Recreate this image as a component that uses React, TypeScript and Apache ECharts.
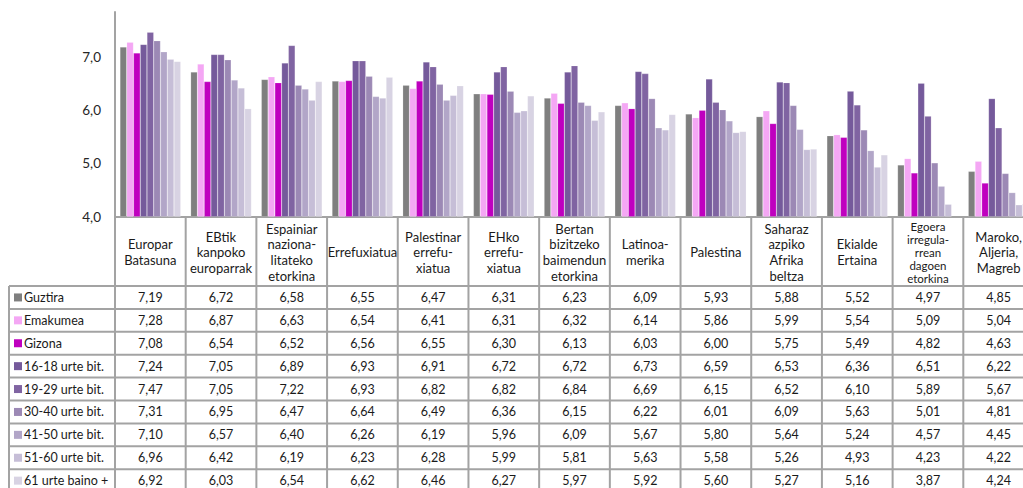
import React, { useEffect, useRef } from "react";
import * as echarts from "echarts";

const categories = [
  "Europar\nBatasuna",
  "EBtik\nkanpoko\neuroparrak",
  "Espainiar\nnaziona-\nlitateko\netorkina",
  "Errefuxiatua",
  "Palestinar\nerrefu-\nxiatua",
  "EHko\nerrefu-\nxiatua",
  "Bertan\nbizitzeko\nbaimendun\netorkina",
  "Latinoa-\nmerika",
  "Palestina",
  "Saharaz\nazpiko\nAfrika\nbeltza",
  "Ekialde\nErtaina",
  "Egoera\nirregula-\nrrean\ndagoen\netorkina",
  "Maroko,\nAljeria,\nMagreb",
];

const seriesNames = [
  "Guztira",
  "Emakumea",
  "Gizona",
  "16-18 urte bit.",
  "19-29 urte bit.",
  "30-40 urte bit.",
  "41-50 urte bit.",
  "51-60 urte bit.",
  "61 urte baino +",
];

const guztira = [7.19, 6.72, 6.58, 6.55, 6.47, 6.31, 6.23, 6.09, 5.93, 5.88, 5.52, 4.97, 4.85];
const emakumea = [7.28, 6.87, 6.63, 6.54, 6.41, 6.31, 6.32, 6.14, 5.86, 5.99, 5.54, 5.09, 5.04];
const gizona = [7.08, 6.54, 6.52, 6.56, 6.55, 6.3, 6.13, 6.03, 6.0, 5.75, 5.49, 4.82, 4.63];
const age16_18 = [7.24, 7.05, 6.89, 6.93, 6.91, 6.72, 6.72, 6.73, 6.59, 6.53, 6.36, 6.51, 6.22];
const age19_29 = [7.47, 7.05, 7.22, 6.93, 6.82, 6.82, 6.84, 6.69, 6.15, 6.52, 6.1, 5.89, 5.67];
const age30_40 = [7.31, 6.95, 6.47, 6.64, 6.49, 6.36, 6.15, 6.22, 6.01, 6.09, 5.63, 5.01, 4.81];
const age41_50 = [7.1, 6.57, 6.4, 6.26, 6.19, 5.96, 6.09, 5.67, 5.8, 5.64, 5.24, 4.57, 4.45];
const age51_60 = [6.96, 6.42, 6.19, 6.23, 6.28, 5.99, 5.81, 5.63, 5.58, 5.26, 4.93, 4.23, 4.22];
const age61plus = [6.92, 6.03, 6.54, 6.62, 6.46, 6.27, 5.97, 5.92, 5.6, 5.27, 5.16, 3.87, 4.24];

const seriesValues = [guztira, emakumea, gizona, age16_18, age19_29, age30_40, age41_50, age51_60, age61plus];

const yMin = 4;
const yMax = 7.85;
const yInterval = 1;

const colors = [
  "#7f7f7f",
  "#f4a7f4",
  "#bf00bf",
  "#755a9b",
  "#8064a2",
  "#9c89b5",
  "#b2a6c8",
  "#c6bed7",
  "#d8d3e3",
];

const fmt = (v: number, d: number) => v.toFixed(d).replace(".", ",");

export default function App() {
  const ref = useRef<HTMLDivElement>(null);

  useEffect(() => {
    const el = ref.current!;
    const chart = echarts.init(el, null, { renderer: "svg" });
    const FONT = "Lato";
    const CW = 1040;
    const H = 488;
    const axisY = 216.5;
    const headerBottom = 286;
    const rowH = 22.9;
    const tableLeft = 9;
    const lineColor = "#a3a3a3";
    const textColor = "#1a1a1a";

    chart.setOption({
      animation: false,
      grid: { left: 115, top: 12, right: CW - 1034, bottom: H - axisY },
      xAxis: {
        type: "category",
        data: categories,
        axisLine: { show: true, lineStyle: { color: lineColor, width: 2 } },
        axisTick: { show: false },
        axisLabel: { show: false },
      },
      yAxis: {
        type: "value",
        min: yMin,
        max: yMax,
        interval: yInterval,
        axisLine: { show: true, lineStyle: { color: lineColor, width: 2 } },
        axisTick: { show: false },
        splitLine: { show: false },
        axisLabel: {
          showMaxLabel: false,
          formatter: (v: number) => (Math.abs(v - Math.round(v)) < 1e-6 ? fmt(v, 1) : ""),
          fontFamily: FONT,
          fontSize: 13.5,
          color: "#262626",
          margin: 14,
        },
      },
      series: seriesValues.map((d, i) => ({
        type: "bar",
        name: seriesNames[i],
        data: d,
        barGap: "0%",
        barCategoryGap: "14%",
        clip: true,
        itemStyle: { color: colors[i], borderColor: "rgba(255,255,255,0.35)", borderWidth: 0.5 },
      })),
    });

    const xs = categories.map((_, i) => chart.convertToPixel({ xAxisIndex: 0 }, i) as number);
    const colW = xs[1] - xs[0];
    const bounds = [xs[0] - colW / 2, ...xs.map((x) => x + colW / 2)];
    const tableBottom = headerBottom + rowH * seriesNames.length;

    const elements: any[] = [];
    for (let k = 0; k <= seriesNames.length; k++) {
      const y = headerBottom + k * rowH;
      elements.push({
        type: "line",
        shape: { x1: tableLeft, y1: y, x2: CW, y2: y },
        style: { stroke: lineColor, lineWidth: 2 },
      });
    }
    elements.push({
      type: "line",
      shape: { x1: tableLeft, y1: headerBottom, x2: tableLeft, y2: tableBottom },
      style: { stroke: lineColor, lineWidth: 2 },
    });
    bounds.forEach((bx) => {
      elements.push({
        type: "line",
        shape: { x1: bx, y1: axisY, x2: bx, y2: tableBottom },
        style: { stroke: lineColor, lineWidth: 2 },
      });
    });
    categories.forEach((c, i) => {
      const lines = c.split("\n").length;
      const five = lines >= 5;
      elements.push({
        type: "text",
        x: xs[i],
        y: (axisY + headerBottom) / 2 + 1,
        style: {
          text: c,
          fontFamily: FONT,
          fontSize: five ? 11.5 : 13,
          lineHeight: five ? 13 : 15.6,
          fill: textColor,
          align: "center",
          verticalAlign: "middle",
        },
      });
    });
    seriesNames.forEach((name, r) => {
      const cy = headerBottom + r * rowH + rowH / 2;
      elements.push({
        type: "rect",
        shape: { x: 14, y: cy - 4, width: 8, height: 8 },
        style: { fill: colors[r] },
      });
      elements.push({
        type: "text",
        x: 24,
        y: cy,
        style: {
          text: name,
          fontFamily: FONT,
          fontSize: 12.5,
          fill: textColor,
          align: "left",
          verticalAlign: "middle",
        },
      });
      seriesValues[r].forEach((v, i) => {
        elements.push({
          type: "text",
          x: xs[i],
          y: cy,
          style: {
            text: fmt(v, 2),
            fontFamily: FONT,
            fontSize: 12.5,
            fill: textColor,
            align: "center",
            verticalAlign: "middle",
          },
        });
      });
    });

    chart.setOption({ graphic: { elements } });

    return () => chart.dispose();
  }, []);

  return (
    <div style={{ position: "fixed", left: 0, top: 0, width: 1023, height: 488, overflow: "hidden", background: "#fff" }}>
      <div ref={ref} style={{ width: 1040, height: 488 }} />
    </div>
  );
}
